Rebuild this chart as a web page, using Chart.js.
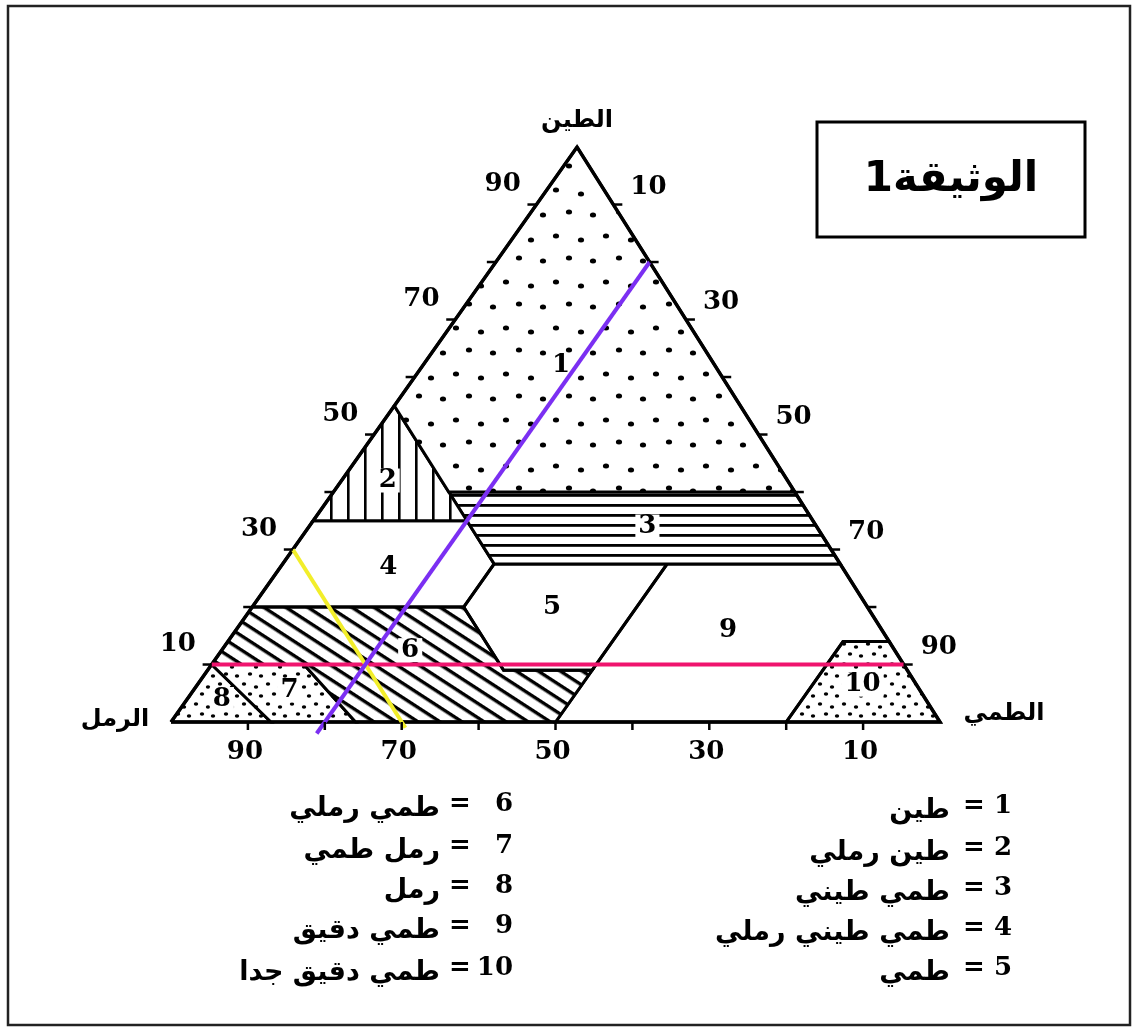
<!DOCTYPE html>
<html>
<head>
<meta charset="utf-8">
<script src="https://cdn.jsdelivr.net/npm/chart.js@4.4.1/dist/chart.umd.min.js"></script>
<style>
  html, body { margin: 0; padding: 0; background: #fff; }
  #texture { display: block; }
</style>
</head>
<body>
<canvas id="texture" width="1138" height="1032"></canvas>
<script>
// points are [sand %, clay %]  (silt = 100 - sand - clay)
const regionNames = ['طين', 'طين رملي', 'طمي طيني', 'طمي طيني رملي', 'طمي',
                     'طمي رملي', 'رمل طمي', 'رمل', 'طمي دقيق', 'طمي دقيق جدا'];
const region1 = [[0, 100], [45, 55], [45, 40], [0, 40]];
const region2 = [[45, 55], [65, 35], [45, 35]];
const region3 = [[45, 40], [0, 40], [0, 27.5], [45, 27.5]];
const region4 = [[45, 35], [65, 35], [80, 20], [52.5, 20], [45, 27.5]];
const region5 = [[45, 27.5], [22.5, 27.5], [41, 9], [52.5, 9], [52.5, 20]];
const region6 = [[80, 20], [52.5, 20], [52.5, 9], [41, 9], [50, 0], [76, 0], [78, 10], [90, 10]];
const region7 = [[90, 10], [78, 10], [76, 0], [87, 0]];
const region8 = [[100, 0], [90, 10], [87, 0]];
const region9 = [[22.5, 27.5], [0, 27.5], [0, 14], [6, 14], [20, 0], [50, 0]];
const region10 = [[20, 0], [6, 14], [0, 14], [0, 0]];
const outline = [[100, 0], [0, 100], [0, 0]];

// the three reading lines: silt 20 %, sand 70 %, clay 10 %
const guideSilt = [[82, -2], [0, 80]];
const guideSand = [[70, 30], [70, -1]];
const guideClay = [[90, 10], [0, 10]];

const edgeTicks = [10, 20, 30, 40, 50, 60, 70, 80, 90];
const clayLabels = [90, 70, 50, 30, 10];
const siltLabels = [10, 30, 50, 70, 90];
const sandLabels = [90, 70, 50, 30, 10];

const APEX = 0.528; // where the clay corner sits along the base (skewed scan)

function toXY(p) {
    const s = p[0], c = p[1];
    return { x: 100 - s - c + APEX * c, y: c };
}
function closed(poly) {
    return poly.concat([poly[0]]).map(toXY);
}

const canvas = document.getElementById('texture');
const ctx0 = canvas.getContext('2d');

function makePattern(w, h, draw) {
    const cv = document.createElement('canvas');
    cv.width = w; cv.height = h;
    const g = cv.getContext('2d');
    g.fillStyle = '#fff';
    g.fillRect(0, 0, w, h);
    g.fillStyle = '#000';
    draw(g);
    return ctx0.createPattern(cv, 'repeat');
}
function dots(g, pts, rx, ry) {
    pts.forEach(p => {
        g.beginPath();
        g.ellipse(p[0], p[1], rx, ry, 0, 0, Math.PI * 2);
        g.fill();
    });
}

const bigDots = makePattern(50, 46, g => dots(g, [[6, 6], [31, 10], [19, 28], [43, 31]], 3.1, 2.5));
const smallDots = makePattern(24, 20, g => dots(g, [[4, 4], [16, 7], [10, 14], [21, 16]], 2.2, 1.7));
const vLines = makePattern(17, 10, g => g.fillRect(7, 0, 2.6, 10));
const hLines = makePattern(10, 10, g => g.fillRect(0, 4, 10, 2.8));
const diag = makePattern(10, 12, g => g.fillRect(0, 4, 10, 3.4));
diag.setTransform(new DOMMatrix().rotate(33));

function regionSet(poly, fill) {
    return {
        data: closed(poly),
        showLine: true,
        borderColor: '#000',
        borderWidth: 3,
        borderJoinStyle: 'miter',
        pointRadius: 0,
        fill: fill ? 'shape' : false,
        backgroundColor: fill || 'transparent',
        order: 2
    };
}
function guideSet(line, color) {
    return {
        data: line.map(toXY),
        showLine: true,
        borderColor: color,
        borderWidth: 4,
        pointRadius: 0,
        fill: false,
        order: 0
    };
}

function pix(chart, s, c) {
    const p = toXY([s, c]);
    return [chart.scales.x.getPixelForValue(p.x), chart.scales.y.getPixelForValue(p.y)];
}

const digitFont = 'bold 26px "DejaVu Serif", serif';
const arabicFont = 'bold 27px "DejaVu Sans", sans-serif';

const OUTLINE_INDEX = 3;

const decorations = {
    id: 'decorations',
    beforeDraw(chart) {
        const ctx = chart.ctx;
        ctx.save();
        ctx.fillStyle = '#fff';
        ctx.fillRect(0, 0, chart.width, chart.height);
        ctx.restore();
    },
    // region numbers go above the fills but under the coloured reading lines
    afterDatasetDraw(chart, args) {
        if (args.index !== OUTLINE_INDEX) return;
        const ctx = chart.ctx;
        const labelAt = [[20, 62], [52, 42], [22, 34], [59, 27], [41, 20],
                         [63, 12.5], [82, 5.5], [91.5, 4], [20, 16], [7, 6.5]];
        ctx.save();
        ctx.font = digitFont;
        ctx.textAlign = 'center';
        ctx.textBaseline = 'middle';
        labelAt.forEach((p, i) => {
            const [x, y] = pix(chart, p[0], p[1]);
            const t = String(i + 1);
            const w = ctx.measureText(t).width;
            if (i !== 3 && i !== 4 && i !== 8) {
                ctx.fillStyle = '#fff';
                ctx.fillRect(x - w / 2 - 3, y - 12, w + 6, 24);
            }
            ctx.fillStyle = '#000';
            ctx.fillText(t, x, y);
        });
        ctx.restore();
    },
    afterDraw(chart) {
        const ctx = chart.ctx;
        ctx.save();
        ctx.strokeStyle = '#000';
        ctx.fillStyle = '#000';
        ctx.lineWidth = 2.5;

        // tick marks on the three sides
        edgeTicks.forEach(v => {
            let [x, y] = pix(chart, 100 - v, v); // left side, clay
            ctx.beginPath(); ctx.moveTo(x, y); ctx.lineTo(x - 9, y); ctx.stroke();
            [x, y] = pix(chart, 0, 100 - v); // right side, silt
            ctx.beginPath(); ctx.moveTo(x, y); ctx.lineTo(x + 9, y); ctx.stroke();
            [x, y] = pix(chart, v, 0); // base, sand
            ctx.beginPath(); ctx.moveTo(x, y); ctx.lineTo(x, y + 8); ctx.stroke();
        });

        // tick labels
        ctx.font = digitFont;
        ctx.textAlign = 'center';
        ctx.textBaseline = 'middle';
        clayLabels.forEach(v => {
            const [x, y] = pix(chart, 100 - (v + 3.5), v + 3.5);
            ctx.fillText(String(v), x - 48, y);
        });
        siltLabels.forEach(v => {
            const [x, y] = pix(chart, 0, 100 - v + 3);
            ctx.fillText(String(v), x + 46, y);
        });
        sandLabels.forEach(v => {
            const [x, y] = pix(chart, v, 0);
            ctx.fillText(String(v), x - 3, y + 30);
        });

        // corner names
        ctx.font = 'bold 24px "DejaVu Sans", sans-serif';
        let [ax, ay] = pix(chart, 0, 100);
        ctx.fillText('الطين', ax, ay - 26);
        [ax, ay] = pix(chart, 100, 0);
        ctx.fillText('الرمل', ax - 56, ay - 2);
        [ax, ay] = pix(chart, 0, 0);
        ctx.fillText('الطمي', ax + 64, ay - 8);

        // title box
        ctx.lineWidth = 3;
        ctx.strokeRect(817, 122, 268, 115);
        ctx.font = 'bold 42px "DejaVu Sans", sans-serif';
        ctx.direction = 'rtl';
        ctx.fillText('الوثيقة1', 951, 180);

        // legend
        const cols = [
            { num: 1012, eq: 974, txt: 950, rows: [806, 848, 888, 928, 968], first: 0 },
            { num: 513, eq: 460, txt: 440, rows: [804, 846, 886, 926, 968], first: 5 }
        ];
        cols.forEach(col => {
            col.rows.forEach((y, k) => {
                const i = col.first + k;
                ctx.direction = 'ltr';
                ctx.font = digitFont;
                ctx.textAlign = 'right';
                ctx.fillText(String(i + 1), col.num, y);
                ctx.textAlign = 'center';
                ctx.fillText('=', col.eq, y);
                ctx.direction = 'rtl';
                ctx.textAlign = 'right';
                ctx.font = arabicFont;
                ctx.fillText(regionNames[i], col.txt, y + 5);
            });
        });

        // outer frame
        ctx.direction = 'ltr';
        ctx.strokeStyle = '#222';
        ctx.lineWidth = 2.5;
        ctx.strokeRect(8, 6, 1122, 1019);
        ctx.restore();
    }
};

new Chart(canvas, {
    type: 'scatter',
    data: {
        datasets: [
            guideSet(guideSilt, '#7b2ff2'),
            guideSet(guideSand, '#f2ee2a'),
            guideSet(guideClay, '#f0146e'),
            Object.assign(regionSet(outline, null), { borderWidth: 3.5, order: 1 }),
            regionSet(region1, bigDots),
            regionSet(region2, vLines),
            regionSet(region3, hLines),
            regionSet(region4, null),
            regionSet(region5, null),
            regionSet(region6, diag),
            regionSet(region7, smallDots),
            regionSet(region8, smallDots),
            regionSet(region9, null),
            regionSet(region10, smallDots)
        ]
    },
    options: {
        responsive: false,
        animation: false,
        events: [],
        layout: { padding: 0 },
        scales: {
            x: { type: 'linear', min: -22.24, max: 125.75, display: false },
            y: { type: 'linear', min: -53.91, max: 125.57, display: false }
        },
        plugins: {
            legend: { display: false },
            tooltip: { enabled: false }
        }
    },
    plugins: [decorations]
});
</script>
</body>
</html>
